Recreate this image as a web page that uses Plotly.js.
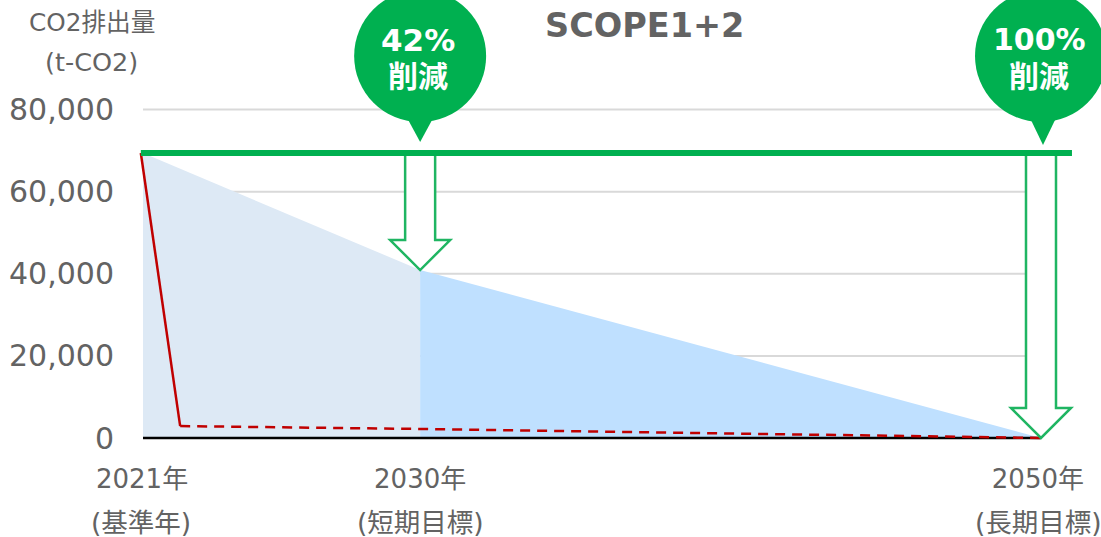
<!DOCTYPE html>
<html><head><meta charset="utf-8">
<script src="https://cdn.plot.ly/plotly-3.0.1.min.js"></script>
<style>html,body{margin:0;padding:0;background:#fff;overflow:hidden}</style>
</head><body><div id="chart" style="width:1101px;height:537px"></div>
<script>
const baseYear = 2021, shortYear = 2029.95, longYear = 2050;
const yTicks = [0, 20000, 40000, 60000, 80000];
const gridValues = [20000, 40000, 60000, 80000];
const baseValue = 69400;
const shortValue = 40900;
const xTickPositions = [2020.97, 2029.95, 2049.9];
const actualYears = [2020.93, 2022.2];
const actualValues = [baseValue, 2900];
const forecastYears = [2022.2, shortYear, longYear];
const forecastValues = [2900, 2200, 0];
const baselineYears = [2020.93, 2051];
const baselineValues = [baseValue, baseValue];
const xLabels = ['2021年', '2030年', '2050年'];
const xSubLabels = ['(基準年)', '(短期目標)', '(長期目標)'];
const badgeTop = ['42%', '100%'];
const badgeBottom = '削減';

const FONT = '"DejaVu Sans","Noto Sans CJK JP",sans-serif';
const GREEN = '#00B050', ARROW = '#1FB562', GREY = '#636363', RED = '#C00000';
const H = 537, ZERO_PX = 438, PLOT_END = 444, PLOT_L = 139, PX_PER = 328.5 / 80000, PX_YEAR = 898 / 29;
const yOf = px => (ZERO_PX - px) / PX_PER;
const yPaper = px => 1 - px / PLOT_END;
const xPaper = px => (px - PLOT_L) / (1101 - PLOT_L);

const traces = [
  {x: [baseYear, shortYear], y: [baseValue, shortValue], mode: 'lines', fill: 'tozeroy',
   fillcolor: '#DDE9F5', line: {width: 0}, hoverinfo: 'skip'},
  {x: [shortYear, longYear], y: [shortValue, 0], mode: 'lines', fill: 'tozeroy',
   fillcolor: '#BFE0FF', line: {width: 0}, hoverinfo: 'skip'},
  {x: [baseYear, longYear], y: [0, 0], mode: 'lines',
   line: {color: '#000', width: 2.5}, hoverinfo: 'skip'},
  {x: actualYears, y: actualValues, mode: 'lines',
   line: {color: RED, width: 2.5}, hoverinfo: 'skip'},
  {x: forecastYears, y: forecastValues, mode: 'lines',
   line: {color: RED, width: 2.5, dash: '10px,7px'}, hoverinfo: 'skip'}
];

const shapes = [];
gridValues.forEach(v => shapes.push({type: 'line', layer: 'below', xref: 'x', yref: 'y',
  x0: baseYear, x1: longYear, y0: v, y1: v, line: {color: '#D9D9D9', width: 2}}));

function arrow(year, tip) {
  const top = yOf(153), head = tip + 30 / PX_PER;
  return {type: 'path', layer: 'above', xref: 'x', yref: 'y', xsizemode: 'pixel', xanchor: year,
    path: `M -15 ${top} L 15 ${top} L 15 ${head} L 30 ${head} L 0 ${tip} L -30 ${head} L -15 ${head} Z`,
    fillcolor: '#fff', line: {color: ARROW, width: 2.5}};
}
function badge(year, tipShift, tipPx) {
  return [
    {type: 'circle', layer: 'above', xref: 'x', yref: 'y', xsizemode: 'pixel', ysizemode: 'pixel',
     xanchor: year, yanchor: yOf(56), x0: -66, x1: 66, y0: -66, y1: 66,
     fillcolor: GREEN, line: {width: 0}},
    {type: 'path', layer: 'above', xref: 'x', yref: 'y', xsizemode: 'pixel', xanchor: year,
     path: `M ${tipShift - 13} ${yOf(118)} L ${tipShift + 13} ${yOf(118)} L ${tipShift} ${yOf(tipPx)} Z`,
     fillcolor: GREEN, line: {width: 0}}
  ];
}
shapes.push(arrow(shortYear, shortValue), arrow(longYear, 0));
shapes.push({type: 'line', layer: 'above', xref: 'x', yref: 'y',
  x0: baselineYears[0], x1: baselineYears[1], y0: baselineValues[0], y1: baselineValues[1],
  line: {color: GREEN, width: 6}});
shapes.push(...badge(shortYear, 0, 142), ...badge(longYear, 2, 145));

const ann = (text, x, xref, py, size, color, bold, xshift) => ({
  text: bold ? `<b>${text}</b>` : text, x, xref, y: yPaper(py), yref: 'paper', yanchor: 'middle',
  xanchor: 'center', showarrow: false, borderpad: 0, xshift: xshift || 0,
  font: {family: FONT, size, color}
});
const annotations = [
  ann('SCOPE1+2', 2037.2, 'x', 26, 33.5, GREY, true),
  ann('CO2排出量', xPaper(91.5), 'paper', 22, 24.7, GREY),
  ann('(t-CO2)', xPaper(91), 'paper', 62, 25.5, GREY),
  ann(badgeTop[0], shortYear, 'x', 40, 31, '#fff', true, -2),
  ann(badgeBottom, shortYear, 'x', 76, 30, '#fff', true, -2),
  ann(badgeTop[1], longYear, 'x', 40, 30, '#fff', true, -2),
  ann(badgeBottom, longYear, 'x', 76, 30, '#fff', true, -2),
  ann(xSubLabels[0], baseYear, 'x', 522, 26.5, GREY, false, -2),
  ann(xSubLabels[1], shortYear, 'x', 522, 26.5, GREY),
  ann(xSubLabels[2], longYear, 'x', 522, 26.5, GREY, false, -3)
];

const layout = {
  width: 1101, height: H, autosize: false,
  margin: {l: PLOT_L, r: 0, t: 0, b: H - PLOT_END, pad: 0},
  paper_bgcolor: '#fff', plot_bgcolor: 'rgba(0,0,0,0)', showlegend: false,
  xaxis: {range: [baseYear - 4 / PX_YEAR, baseYear + 958 / PX_YEAR], tickmode: 'array', tickvals: xTickPositions,
    ticktext: xLabels, showgrid: false, zeroline: false, showline: false,
    ticks: 'outside', ticklen: 12, tickcolor: 'rgba(0,0,0,0)',
    tickfont: {family: FONT, size: 26, color: GREY}},
  yaxis: {range: [-6 / PX_PER, ZERO_PX / PX_PER], tickmode: 'array', tickvals: yTicks, tickformat: ',d',
    showgrid: false, zeroline: false, showline: false,
    ticks: 'outside', ticklen: 18, tickcolor: 'rgba(0,0,0,0)',
    tickfont: {family: FONT, size: 30, color: GREY}},
  shapes, annotations
};
Plotly.newPlot('chart', traces, layout, {displayModeBar: false, staticPlot: true});
</script></body></html>
